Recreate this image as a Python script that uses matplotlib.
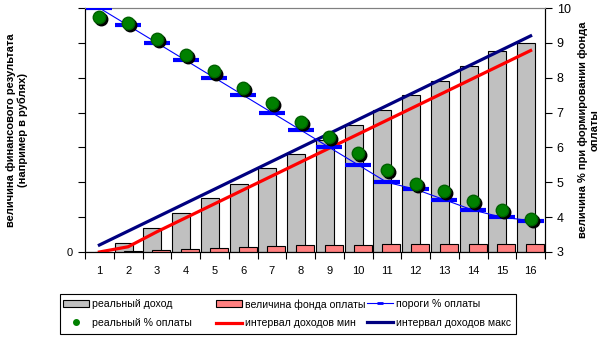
import numpy as np
import matplotlib
matplotlib.use("Agg")
import matplotlib.pyplot as plt
import matplotlib.transforms as mtransforms
from matplotlib.patches import Rectangle
from matplotlib.ticker import FixedLocator

plt.rcParams['font.family'] = ['Liberation Sans', 'DejaVu Sans']
plt.rcParams['font.size'] = 8

# categories
cats = np.arange(1, 17)

# left axis (income, arbitrary units)
real_income = [0, 2.5, 6.8, 11.1, 15.4, 19.4, 24.0, 28.0, 32.2, 36.3, 40.6, 44.9, 49.2, 53.3, 57.7, 59.9]
pay_fund = [0, 0.3, 0.6, 0.9, 1.1, 1.35, 1.6, 1.9, 2.0, 2.0, 2.2, 2.2, 2.2, 2.2, 2.2, 2.2]
income_min = [0, 1.5, 5.8, 9.8, 13.8, 17.8, 21.8, 25.8, 29.8, 33.8, 37.8, 41.8, 45.8, 49.8, 53.8, 57.8]
income_max = [2.0, 6.0, 10.0, 14.0, 18.0, 22.0, 26.0, 30.0, 34.0, 38.0, 42.0, 46.0, 50.0, 54.0, 58.0, 62.0]

# right axis (% of payment)
pay_threshold = [10.0, 9.5, 9.0, 8.5, 8.0, 7.5, 7.0, 6.5, 6.0, 5.5, 5.0, 4.8, 4.5, 4.2, 4.0, 3.9]
real_pay_pct = [9.73, 9.58, 9.1, 8.64, 8.18, 7.7, 7.27, 6.74, 6.31, 5.83, 5.35, 4.95, 4.75, 4.46, 4.2, 3.95]

W, H = 604, 339
fig = plt.figure(figsize=(W / 100, H / 100), dpi=100)
ax = fig.add_axes([85/W, 1 - 252/H, 460/W, 244/H])
ax2 = ax.twinx()

# bars (clustered with overlap)
bw = 0.626
off = 0.157
b1 = ax.bar(cats - off, real_income, bw, color="#C0C0C0", edgecolor="black", linewidth=0.8, zorder=2)
b2 = ax.bar(cats + off, pay_fund, bw, color="#FF8080", edgecolor="black", linewidth=0.8, zorder=3)
l_min, = ax.plot(cats, income_min, color="#FF0000", lw=2.3, zorder=4)
l_max, = ax.plot(cats, income_max, color="#000080", lw=2.3, zorder=4)

ax.set_xlim(0.5, 16.5)
ax.set_ylim(0, 70)
ax.set_yticks(np.arange(0, 71, 10))
ax.set_yticklabels(["0"] + [""] * 7)
ax.set_xticks(cats)
ax.set_xticklabels([str(c) for c in cats])
ax.xaxis.set_minor_locator(FixedLocator(np.arange(0.5, 17, 1)))
ax.tick_params(axis="x", which="major", length=0, pad=10)
ax.tick_params(axis="x", which="minor", length=5, direction="out", width=0.8)
ax.tick_params(axis="y", length=5, direction="out", width=0.8)
ax.spines["top"].set_color("#808080")

# right axis series
ax2.set_ylim(3, 10)
ax2.set_yticks(np.arange(3, 11, 1))
ax2.tick_params(axis="y", length=5, direction="out", width=0.8, labelsize=9)
ax2.spines["top"].set_color("#808080")
ax2.spines["right"].set_linewidth(0.8)

l_thr, = ax2.plot(cats, pay_threshold, color="#0000FF", lw=0.8, marker="_", markersize=19,
                  markeredgewidth=3, zorder=5)

shadow = mtransforms.offset_copy(ax2.transData, fig=fig, x=1.5, y=-1.5, units="points")
ax2.plot(cats, real_pay_pct, ls="none", marker="o", markersize=9, color="black",
         transform=shadow, zorder=6)
ax2.plot(cats, real_pay_pct, ls="none", marker="o", markersize=9, color="#008000",
         markeredgecolor="#006000", zorder=7)

fig.text(17/W, 1 - 130/H, "величина финансового результата\n(например в рублях)",
         rotation=90, ha="center", va="center", fontweight="bold", fontsize=8)
fig.text(589/W, 1 - 130/H, "величина % при формировании фонда\nоплаты",
         rotation=90, ha="center", va="center", fontweight="bold", fontsize=8)

# legend: box plus three columns
fig.patches.append(Rectangle((60/W, 1 - 334/H), 456/W, 40/H, transform=fig.transFigure,
                             facecolor="white", edgecolor="black", linewidth=0.8, zorder=0))

# legend-only proxies (smaller marks, as in the reference)
g_dot, = ax2.plot([], [], ls="none", marker="o", markersize=4, color="#008000")
t_dash, = ax2.plot([], [], color="#0000FF", lw=0.8, marker="_", markersize=5, markeredgewidth=2)

columns = [
    (63, [b1, g_dot], ["реальный доход", "реальный % оплаты"]),
    (216, [b2, l_min], ["величина фонда оплаты", "интервал доходов мин"]),
    (367, [t_dash, l_max], ["пороги % оплаты", "интервал доходов макс"]),
]
for x0, hs, ls in columns:
    lg = fig.legend(hs, ls, loc="upper left", bbox_to_anchor=(x0/W, 1 - 299/H),
                    frameon=False, fontsize=7.6, handlelength=2.45, handleheight=0.6,
                    handletextpad=0.3, borderpad=0, borderaxespad=0, labelspacing=0.85,
                    numpoints=1)

fig.savefig("out.png", dpi=100)
